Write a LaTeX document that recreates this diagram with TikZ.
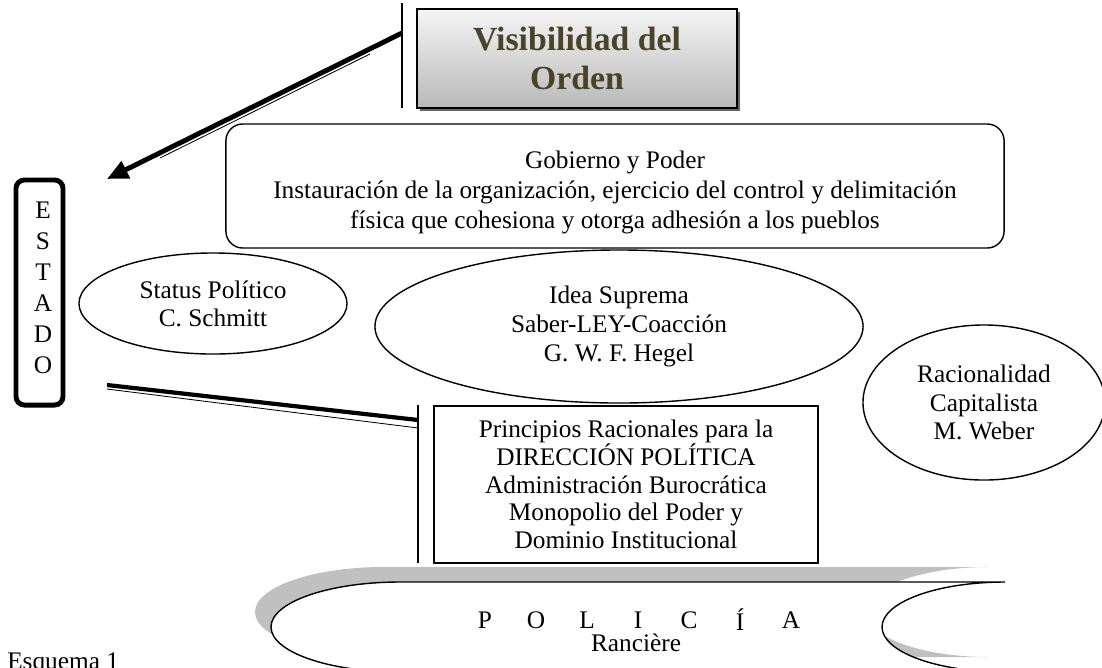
\documentclass[tikz,border=0pt]{standalone}
\usepackage{fontspec}
\setmainfont{Liberation Serif}
\usetikzlibrary{shapes.geometric,arrows.meta,shadows}
\definecolor{olivetxt}{RGB}{73,68,41}
\definecolor{shadowgray}{RGB}{192,192,192}

\begin{document}
\begin{tikzpicture}[x=0.025cm,y=-0.025cm,
  txt/.style={font=\fontsize{18}{20}\selectfont,align=center,inner sep=0pt},
  txtbox/.style={draw,line width=1pt,fill=white,txt},
  oval/.style={draw,ellipse,line width=1pt,fill=white,txt},
  thickline/.style={line width=3.5pt},
  thinline/.style={line width=0.6pt}]
  \useasboundingbox (0,0) rectangle (1102,667);
  \def\scrollpath{(400,582) -- (1005,582) arc[start angle=-90,end angle=-270,x radius=123,y radius=45]
    -- (400,672) arc[start angle=90,end angle=270,x radius=129,y radius=45] -- cycle}

  % title box
  \node[draw,line width=1.3pt,top color=gray!8,bottom color=gray!55,
        drop shadow={shadow xshift=2pt,shadow yshift=-2pt,fill=black!60,opacity=1},
        minimum width=8cm,minimum height=2.475cm,align=center,
        font=\fontsize{24}{27.7}\selectfont\bfseries,text=olivetxt] (vis) at (577,58.5) {Visibilidad del\\Orden};
  \coordinate (v1t) at (402,3);
  \coordinate (v1b) at (402,108);
  \draw[line width=1pt] (v1t) -- (v1b);

  % gobierno
  \node[txtbox,rounded corners=12pt,minimum width=19.45cm,minimum height=3.1cm] (gob) at (615,186) {};
  \node[txt,font=\fontsize{18}{21.3}\selectfont] (gobtxt) at (615,192)
    {Gobierno y Poder\\Instauración de la organización, ejercicio del control y delimitación\\física que cohesiona y otorga adhesión a los pueblos};

  % estado
  \node[draw,line width=3.5pt,rounded corners=6pt,minimum width=1.175cm,minimum height=5.625cm] (estado) at (39.5,292.5) {};
  \foreach \l [count=\i] in {E,S,T,A,D,O} { \node[txt] (e\i) at (43,179+\i*31) {\l}; }

  % ovals
  \node[oval,minimum width=6.7cm,minimum height=2.525cm,font=\fontsize{18}{19.9}\selectfont] (status) at (213,303.5) {Status Político\\C. Schmitt};
  \node[oval,minimum width=12.2cm,minimum height=3.825cm,font=\fontsize{18}{20.6}\selectfont] (idea) at (619,326.5) {Idea Suprema\\Saber-LEY-Coacción\\G. W. F. Hegel};
  \node[oval,minimum width=6.05cm,minimum height=3.875cm,font=\fontsize{18}{20.3}\selectfont] (racio) at (984,402.5) {Racionalidad\\Capitalista\\M. Weber};

  % principios
  \node[txtbox,minimum width=9.6cm,minimum height=3.925cm,font=\fontsize{18}{19.7}\selectfont] (prin) at (626,484.5)
    {Principios Racionales para la\\DIRECCIÓN POLÍTICA\\Administración Burocrática\\Monopolio del Poder y\\Dominio Institucional};
  \coordinate (v2t) at (418,405);
  \coordinate (v2b) at (418,563);
  \draw[line width=1.2pt] (v2t) -- (v2b);

  % connectors
  \coordinate (a1) at (402,33);
  \coordinate (a2) at (107,179);
  \coordinate (b1) at (370,54);
  \coordinate (b2) at (160,158);
  \draw[thickline,-{Triangle[length=15pt,width=13pt]}] (a1) -- (a2);
  \draw[thinline] (b1) -- (b2);
  \coordinate (c1) at (107,385);
  \coordinate (c2) at (418,420);
  \coordinate (d1) at (107,389);
  \coordinate (d2) at (418,428);
  \draw[line width=3pt] (c1) -- (c2);
  \draw[thinline] (d1) -- (d2);

  % policia scroll
  \fill[shadowgray,xshift=-0.4cm,yshift=0.375cm] \scrollpath;
  \draw[line width=1pt,fill=white] \scrollpath;
  \foreach \l [count=\i] in {P,O,L,I,C,Í,A} { \node[txt] (p\i) at (434+\i*51,620) {\l}; }
  \node[txt] (ran) at (636,643) {Rancière};

  \node[txt,anchor=base west] (esq) at (7,669) {Esquema 1};
\end{tikzpicture}
\end{document}
